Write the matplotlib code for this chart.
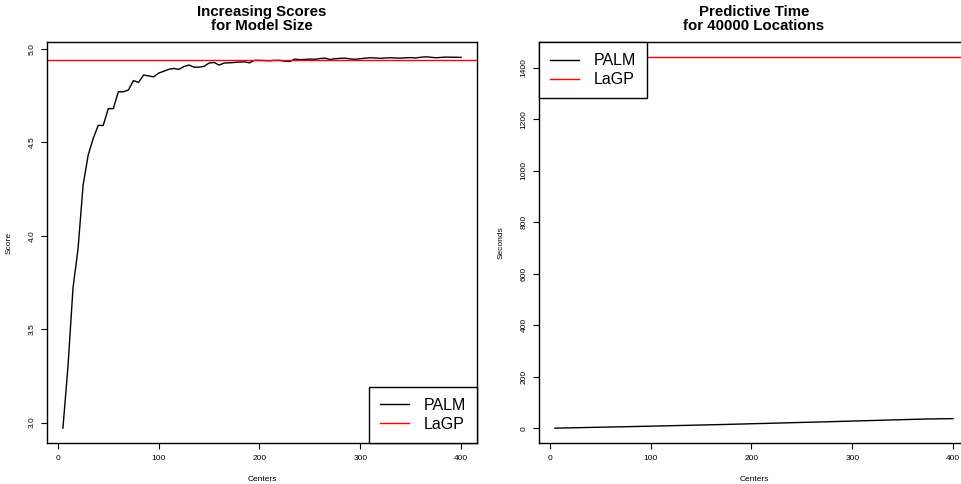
import matplotlib
matplotlib.use("Agg")
import matplotlib.pyplot as plt
import numpy as np

plt.rcParams['font.family'] = ['Liberation Sans', 'DejaVu Sans']

# model sizes (number of centers)
centers = list(range(5, 405, 5))

# PALM score for each model size
palm_score = [2.97, 3.30, 3.72, 3.93, 4.27, 4.43, 4.52, 4.59, 4.59, 4.68,
              4.68, 4.77, 4.77, 4.78, 4.83, 4.82, 4.86, 4.855, 4.85, 4.87,
              4.88, 4.89, 4.895, 4.89, 4.905, 4.913, 4.902, 4.902, 4.906, 4.924,
              4.927, 4.913, 4.924, 4.925, 4.927, 4.929, 4.930, 4.925, 4.938, 4.938,
              4.937, 4.936, 4.938, 4.938, 4.934, 4.932, 4.945, 4.942, 4.943, 4.945,
              4.944, 4.948, 4.950, 4.943, 4.947, 4.949, 4.950, 4.946, 4.944, 4.947,
              4.950, 4.952, 4.951, 4.949, 4.951, 4.952, 4.951, 4.950, 4.952, 4.953,
              4.951, 4.955, 4.957, 4.955, 4.952, 4.954, 4.956, 4.955, 4.955, 4.954]
lagp_score = 4.94

# PALM predictive time (seconds) for 40000 locations
palm_time = [0.5, 0.9, 1.3, 1.7, 2.1, 2.5, 2.9, 3.3, 3.7, 4.1,
             4.5, 4.9, 5.3, 5.7, 6.1, 6.5, 6.9, 7.3, 7.8, 8.2,
             8.6, 9.1, 9.5, 10.0, 10.4, 10.9, 11.3, 11.8, 12.2, 12.7,
             13.1, 13.6, 14.0, 14.5, 15.0, 15.5, 16.0, 16.5, 17.0, 17.6,
             18.0, 18.5, 19.0, 19.6, 20.1, 20.6, 21.1, 21.7, 22.2, 22.7,
             23.2, 23.7, 24.2, 24.7, 25.2, 25.8, 26.3, 26.9, 27.4, 28.0,
             28.5, 29.1, 29.6, 30.2, 30.7, 31.3, 31.8, 32.4, 32.9, 33.5,
             34.0, 34.6, 35.1, 35.6, 36.0, 36.4, 36.7, 37.0, 37.2, 37.4]
lagp_time = 1441.5

W, H = 961, 484
fig = plt.figure(figsize=(W / 100, H / 100), dpi=100)
ax1 = fig.add_axes([47 / W, 41 / H, 430 / W, 401 / H])
ax2 = fig.add_axes([539 / W, 41 / H, 430 / W, 401 / H])


def r_range(lo, hi):
    # R style 4% axis extension
    d = 0.04 * (hi - lo)
    return lo - d, hi + d


def style(ax, title, ylabel, yticks, yfmt):
    ax.set_title(title, fontsize=10.8, fontweight='bold', pad=9, linespacing=0.98)
    ax.set_xticks([0, 100, 200, 300, 400])
    ax.set_yticks(yticks)
    ax.set_yticklabels([yfmt.format(v) for v in yticks])
    ax.tick_params(direction='out', length=4.3, width=0.8, labelsize=6, pad=4)
    ax.tick_params(axis='y', labelrotation=90)
    for lab in ax.get_yticklabels():
        lab.set_va('center')
    for sp in ax.spines.values():
        sp.set_linewidth(1.0)
        sp.set_color('black')
    ax.set_xlabel("Centers", fontsize=6)
    ax.set_ylabel(ylabel, fontsize=6)
    ax.xaxis.set_label_coords(0.5, -0.083)
    ax.yaxis.set_label_coords(-0.079, 0.5)


def add_legend(ax, loc):
    leg = ax.legend(loc=loc, borderaxespad=0, fancybox=False, edgecolor='black',
                    framealpha=1, fontsize=11.5, handlelength=1.8,
                    handletextpad=0.9, borderpad=0.7, labelspacing=0.25)
    leg.get_frame().set_linewidth(1.0)


# left: scores
ax1.plot(centers, palm_score, color='black', lw=1, label='PALM')
ax1.axhline(lagp_score, color='red', lw=1, label='LaGP')
ax1.set_xlim(*r_range(min(centers), max(centers)))
ax1.set_ylim(*r_range(min(palm_score), max(max(palm_score), lagp_score)))
style(ax1, "Increasing Scores\nfor Model Size", "Score",
      [3.0, 3.5, 4.0, 4.5, 5.0], "{:.1f}")
add_legend(ax1, 'lower right')

# right: predictive time
ax2.plot(centers, palm_time, color='black', lw=1, label='PALM')
ax2.axhline(lagp_time, color='red', lw=1, label='LaGP')
ax2.set_xlim(*r_range(min(centers), max(centers)))
ax2.set_ylim(*r_range(min(palm_time), max(max(palm_time), lagp_time)))
style(ax2, "Predictive Time\nfor 40000 Locations", "Seconds",
      list(range(0, 1401, 200)), "{:d}")
add_legend(ax2, 'upper left')

fig.savefig("out.png", dpi=100)
